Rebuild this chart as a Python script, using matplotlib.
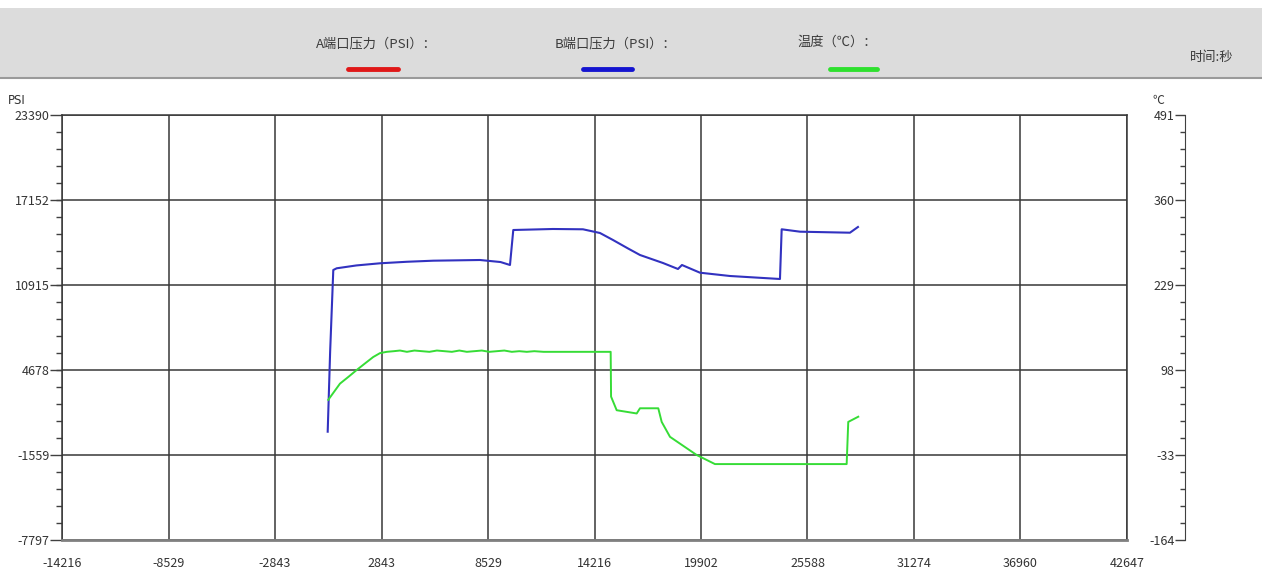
import numpy as np
import matplotlib
matplotlib.use('Agg')
import matplotlib.pyplot as plt
from matplotlib.patches import Rectangle
from matplotlib.lines import Line2D
from matplotlib.ticker import FixedLocator, AutoMinorLocator

plt.rcParams['font.family'] = ['Noto Sans CJK SC', 'DejaVu Sans']

# axis scales
x_ticks = [-14216, -8529, -2843, 2843, 8529, 14216, 19902, 25588, 31274, 36960, 42647]
psi_ticks = [-7797, -1559, 4678, 10915, 17152, 23390]
temp_ticks = [-164, -33, 98, 229, 360, 491]

# B port pressure (PSI) vs time (s)
b_time = [-30, 100, 269, 450, 1500, 2762, 4200, 5608, 8101, 9200, 9703, 9879,
          11998, 13600, 14508, 15202, 16000, 16644, 17871, 18672, 18885, 19847,
          21448, 24118, 24209, 25192, 27855, 28282]
b_psi = [150, 6000, 12016, 12141, 12350, 12508, 12620, 12699, 12750, 12600, 12383, 14951,
         15025, 15003, 14731, 14218, 13600, 13117, 12530, 12090, 12383, 11818,
         11576, 11356, 15003, 14827, 14753, 15172]

# temperature (C) vs time (s)
g_time = [0, 626, 1100, 1518, 2000, 2400, 2762, 3120, 3500, 3830, 4200, 4600, 5000,
          5400, 5800, 6200, 6600, 7000, 7400, 7800, 8200, 8600, 9000, 9400, 9800,
          10200, 10600, 11000, 11500, 12300, 13440, 15079, 15100,
          15400, 16468, 16644, 17621, 17803, 18246, 19671, 20648, 27679, 27764, 28298]
g_temp = [52, 77, 88, 98, 109, 118, 124, 126, 127, 128, 126, 128, 127,
          126, 128, 127, 126, 128, 126, 127, 128, 126, 127, 128, 126,
          127, 126, 127, 126, 126, 126, 126, 57,
          36, 31, 39, 39, 18, -5, -33, -47, -47, 18, 26]

W, H = 1262, 574
fig = plt.figure(figsize=(W / 100, H / 100), dpi=100)

# header bar with legend
fig.patches.append(Rectangle((0, 1 - 78 / H), 1, 70 / H, transform=fig.transFigure,
                             facecolor='#dcdcdc', edgecolor='none', zorder=0))
fig.lines.append(Line2D([0, 1], [1 - 78 / H, 1 - 78 / H], transform=fig.transFigure,
                        color='#9a9a9a', lw=1.5))
tc = '#3c3c3c'
fig.text(316 / W, 1 - 44 / H, 'A端口压力（PSI）：', fontsize=9.5, color=tc, va='center')
fig.text(555 / W, 1 - 44 / H, 'B端口压力（PSI）：', fontsize=9.5, color=tc, va='center')
fig.text(797 / W, 1 - 42 / H, '温度（℃）：', fontsize=9.5, color=tc, va='center')
fig.text(1190 / W, 1 - 57 / H, '时间:秒', fontsize=9.5, color=tc, va='center')
for x0, x1, c in [(348, 398, '#e01818'), (583, 632, '#1414d0'), (830, 877, '#2ee02e')]:
    fig.lines.append(Line2D([x0 / W, x1 / W], [1 - 69 / H, 1 - 69 / H],
                            transform=fig.transFigure, color=c, lw=3.5,
                            solid_capstyle='round'))

ax = fig.add_axes([62 / W, 1 - 540 / H, 1065 / W, 425 / H])
ax.set_xlim(x_ticks[0], x_ticks[-1])
ax.set_ylim(psi_ticks[0], psi_ticks[-1])
ax.xaxis.set_major_locator(FixedLocator(x_ticks))
ax.yaxis.set_major_locator(FixedLocator(psi_ticks))
ax.yaxis.set_minor_locator(AutoMinorLocator(5))
ax.grid(True, which='major', color='#383838', lw=1.1)
ax.set_axisbelow(True)
for s in ax.spines.values():
    s.set_color('#383838')
    s.set_linewidth(1.1)
ax.spines['bottom'].set_color('#808080')
ax.spines['bottom'].set_linewidth(2.0)
ax.tick_params(axis='x', length=0, pad=12, labelsize=9, labelcolor='#333333')
ax.tick_params(axis='y', which='major', length=8.6, width=1.0, color='#404040',
               labelsize=9, labelcolor='#333333', pad=0.5)
ax.tick_params(axis='y', which='minor', length=4.3, width=1.0, color='#404040')
ax.set_xticklabels([str(v) for v in x_ticks])
ax.set_yticklabels([str(v) for v in psi_ticks])

ax.plot(b_time, b_psi, color='#3232c0', lw=1.5, zorder=3)

# temperature scale, drawn as a separate spine right of the plot
tw = ax.twinx()
tw.set_ylim(temp_ticks[0], temp_ticks[-1])
tw.yaxis.tick_left()
tw.spines['left'].set_position(('axes', (1185 - 62) / 1065))
tw.spines['left'].set_visible(True)
tw.spines['left'].set_color('#404040')
for k in ['right', 'top', 'bottom']:
    tw.spines[k].set_visible(False)
tw.yaxis.set_major_locator(FixedLocator(temp_ticks))
tw.yaxis.set_minor_locator(AutoMinorLocator(5))
tw.set_yticklabels([str(v) for v in temp_ticks])
tw.tick_params(axis='y', which='major', length=7, width=1.0, color='#404040',
               labelsize=9, labelcolor='#333333', pad=0.5)
tw.tick_params(axis='y', which='minor', length=3.6, width=1.0, color='#404040')
tw.plot(g_time, g_temp, color='#36dc36', lw=1.4, zorder=3)

fig.text(8 / W, 1 - 100 / H, 'PSI', fontsize=8.5, color='#333333', va='center',
         family='DejaVu Sans')
fig.text(1152 / W, 1 - 100 / H, '℃', fontsize=8.5, color='#333333', va='center')

fig.savefig('out.png', dpi=100)
